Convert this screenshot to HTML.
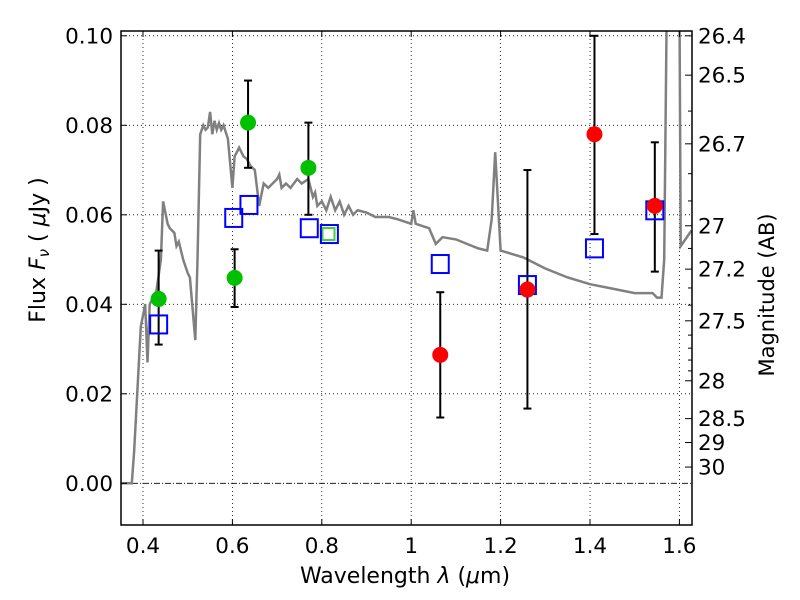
<!DOCTYPE html>
<html><head><meta charset="utf-8"><style>
body{margin:0;background:#fff}
svg{display:block;font-family:"DejaVu Sans","Liberation Sans",sans-serif}
</style></head><body>
<svg id="chart" width="800" height="600">
<g id="grid"></g>
<g id="spec"></g>
<g id="marks"></g>
<g id="axes"></g>
<text x="405" y="583" font-size="22" text-anchor="middle">Wavelength  <tspan font-style="italic">λ</tspan> (<tspan font-style="italic">μ</tspan>m)</text>
<text transform="translate(45,250) rotate(-90)" font-size="22" text-anchor="middle">Flux  <tspan font-style="italic">F</tspan><tspan font-style="italic" font-size="15" dy="4">ν</tspan><tspan dy="-4">  (  </tspan><tspan font-style="italic">μ</tspan>Jy )</text>
<text transform="translate(774,295) rotate(-90)" font-size="21" text-anchor="middle">Magnitude (AB)</text>
</svg>
<script>
const specWave=[0.35,0.375,0.38,0.395,0.405,0.41,0.415,0.43,0.44,0.445,0.455,0.46,0.47,0.475,0.48,0.49,0.5,0.505,0.51,0.517,0.522,0.528,0.535,0.54,0.545,0.55,0.555,0.56,0.565,0.57,0.575,0.58,0.59,0.6,0.605,0.615,0.625,0.632,0.64,0.65,0.66,0.67,0.68,0.69,0.7,0.705,0.71,0.72,0.73,0.745,0.755,0.77,0.78,0.785,0.79,0.8,0.81,0.82,0.83,0.84,0.85,0.86,0.87,0.88,0.9,0.92,0.95,0.97,1.0,1.005,1.01,1.04,1.055,1.07,1.1,1.15,1.17,1.18,1.188,1.2,1.25,1.3,1.35,1.4,1.45,1.5,1.54,1.55,1.56,1.566,1.572,1.6,1.603,1.627];
const specFlux=[0,0,0.007,0.035,0.04,0.027,0.04,0.043,0.05,0.063,0.058,0.057,0.056,0.053,0.054,0.05,0.047,0.046,0.04,0.032,0.05,0.078,0.08,0.079,0.0795,0.083,0.078,0.081,0.079,0.0805,0.079,0.08,0.077,0.066,0.073,0.075,0.073,0.0725,0.071,0.07,0.062,0.067,0.066,0.067,0.068,0.069,0.066,0.067,0.066,0.068,0.067,0.068,0.064,0.065,0.062,0.063,0.061,0.064,0.061,0.063,0.06,0.062,0.06,0.061,0.0605,0.0595,0.0595,0.059,0.058,0.061,0.058,0.057,0.0535,0.055,0.0545,0.0525,0.052,0.059,0.074,0.052,0.0505,0.048,0.046,0.0445,0.0435,0.0425,0.0425,0.0415,0.0415,0.05,0.11,0.11,0.053,0.0565];
const greenWave=[0.435,0.605,0.635,0.77];
const greenFlux=[0.0412,0.0459,0.0806,0.0705];
const greenHi=[0.052,0.0523,0.090,0.0806];
const greenLo=[0.031,0.0394,0.0705,0.060];
const redWave=[1.065,1.26,1.41,1.545];
const redFlux=[0.0287,0.0433,0.078,0.062];
const redHi=[0.0427,0.070,0.100,0.0762];
const redLo=[0.0147,0.0167,0.0557,0.0473];
const modelWave=[0.435,0.603,0.637,0.772,0.817,1.065,1.26,1.41,1.545];
const modelFlux=[0.0355,0.0593,0.0622,0.057,0.0557,0.049,0.0443,0.0525,0.061];
const xTicks=[0.4,0.6,0.8,1.0,1.2,1.4,1.6];
const xTickLabels=["0.4","0.6","0.8","1","1.2","1.4","1.6"];
const yTicks=[0,0.02,0.04,0.06,0.08,0.10];
const yTickLabels=["0.00","0.02","0.04","0.06","0.08","0.10"];
const magTicks=[26.4,26.5,26.7,27,27.2,27.5,28,28.5,29,30];
const magMinor=[26.6,26.8,26.9,27.1,27.3,27.4,27.6,27.7,27.8,27.9];

const L=121,R=692,T=31,B=525;
const X=v=>143+(v-0.4)*447;
const Y=v=>483.3-v*4475;
const NS="http://www.w3.org/2000/svg";
function mk(p,t,a){const e=document.createElementNS(NS,t);for(const k in a)e.setAttribute(k,a[k]);p.appendChild(e);return e;}
const grid=document.getElementById('grid'),spec=document.getElementById('spec'),marks=document.getElementById('marks'),axes=document.getElementById('axes');
xTicks.forEach(v=>{const l=mk(grid,'line',{x1:X(v),x2:X(v),y1:T,y2:B,stroke:'#000','stroke-width':0.8,'stroke-dasharray':'1,3'});

});
yTicks.forEach(v=>{const l=mk(grid,'line',{x1:L,x2:R,y1:Y(v),y2:Y(v),stroke:'#000','stroke-width':0.8,'stroke-dasharray':v===0?'6,2,1,2':'1,3'});

});
const cp=mk(spec,'clipPath',{id:'cp'});
mk(cp,'rect',{x:L,y:T,width:R-L,height:B-T});
const pts=specWave.map((w,i)=>X(w).toFixed(1)+','+Y(specFlux[i]).toFixed(1)).join(' ');
const pl=mk(spec,'polyline',{points:pts,fill:'none',stroke:'#808080','stroke-width':2.5,'clip-path':'url(#cp)'});


function err(w,hi,lo){const g=mk(marks,'g',{stroke:'#000','stroke-width':2});


mk(g,'line',{x1:X(w),x2:X(w),y1:Y(hi),y2:Y(lo)});
mk(g,'line',{x1:X(w)-4,x2:X(w)+4,y1:Y(hi),y2:Y(hi)});
mk(g,'line',{x1:X(w)-4,x2:X(w)+4,y1:Y(lo),y2:Y(lo)});}
greenWave.forEach((w,i)=>err(w,greenHi[i],greenLo[i]));
redWave.forEach((w,i)=>err(w,redHi[i],redLo[i]));
greenWave.forEach((w,i)=>{const c=mk(marks,'circle',{cx:X(w),cy:Y(greenFlux[i]),r:8,fill:'#00c000'});

});
const gs=mk(marks,'rect',{x:X(0.815)-6,y:Y(0.0557)-6,width:12,height:12,fill:'none',stroke:'#4c4','stroke-width':2});


modelWave.forEach((w,i)=>{const s=mk(marks,'rect',{x:X(w)-8.5,y:Y(modelFlux[i])-9,width:17,height:18,fill:'none',stroke:'#0000ff','stroke-width':2});

});
redWave.forEach((w,i)=>{const c=mk(marks,'circle',{cx:X(w),cy:Y(redFlux[i]),r:8,fill:'#ff0000'});

});
mk(axes,'rect',{x:L,y:T,width:R-L,height:B-T,fill:'none',stroke:'#000','stroke-width':1.5});
xTicks.forEach((v,i)=>{mk(axes,'line',{x1:X(v),x2:X(v),y1:B,y2:B-6,stroke:'#000'});mk(axes,'line',{x1:X(v),x2:X(v),y1:T,y2:T+6,stroke:'#000'});
const t=mk(axes,'text',{x:X(v),y:553,'font-size':21.5,'text-anchor':'middle'});t.textContent=xTickLabels[i];

});
yTicks.forEach((v,i)=>{mk(axes,'line',{x1:L,x2:L+6,y1:Y(v),y2:Y(v),stroke:'#000'});
const t=mk(axes,'text',{x:113,y:Y(v)+7.5,'font-size':21.5,'text-anchor':'end'});t.textContent=yTickLabels[i];

});
const m2f=m=>Math.pow(10,(23.9-m)/2.5);
magTicks.forEach(m=>{const y=Y(m2f(m));mk(axes,'line',{x1:R,x2:R-7,y1:y,y2:y,stroke:'#000'});
const t=mk(axes,'text',{x:698,y:y+7.5,'font-size':21.5});t.textContent=String(m);

});
magMinor.forEach(m=>{const y=Y(m2f(m));mk(axes,'line',{x1:R,x2:R-4,y1:y,y2:y,stroke:'#000'});});
</script>
</body></html>
